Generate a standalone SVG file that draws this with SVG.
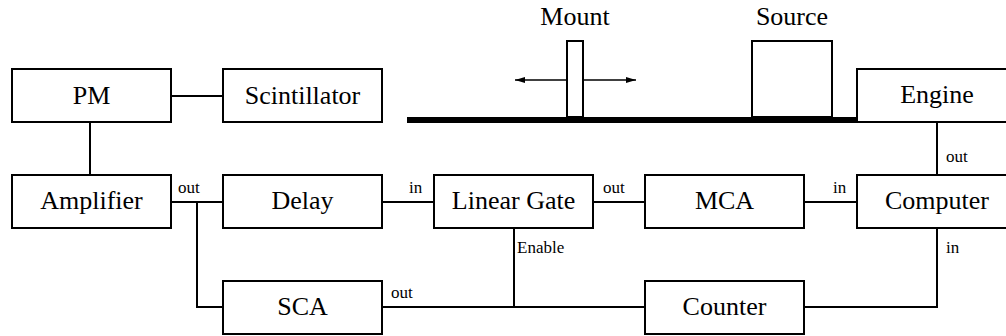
<svg xmlns="http://www.w3.org/2000/svg" width="1006" height="336" viewBox="0 0 1006 336">
  <style>
    .box { fill: #fff; stroke: #000; stroke-width: 2; }
    .lbl { font-family: 'Liberation Serif', 'Times New Roman', serif; font-size: 26px; fill: #000; text-anchor: middle; }
    .port { font-family: 'Liberation Serif', 'Times New Roman', serif; font-size: 17px; fill: #000; }
    .wire { fill: none; stroke: #000; stroke-width: 2; }
    .thin { fill: none; stroke: #000; stroke-width: 1.3; }
  </style>
  <defs>
    <marker id="arrowHead" viewBox="0 0 10 6" refX="10" refY="3" markerWidth="10" markerHeight="6" markerUnits="userSpaceOnUse" orient="auto-start-reverse">
      <path d="M0,0 L10,3 L0,6 Z" fill="#000"/>
    </marker>
  </defs>

  <rect width="1006" height="336" fill="#fff"/>

  <!-- translation stage: rail, sliding mount, source -->
  <g id="stage">
    <line class="thin" x1="515" y1="80" x2="636" y2="80" marker-start="url(#arrowHead)" marker-end="url(#arrowHead)"/>
    <rect x="407" y="117" width="451" height="6" fill="#000"/>
    <rect class="box" x="567" y="41" width="16" height="76" stroke-width="1.6"/>
    <rect class="box" x="752" y="41" width="80" height="76" stroke-width="1.6"/>
    <text class="lbl" x="575" y="25">Mount</text>
    <text class="lbl" x="792" y="25">Source</text>
  </g>

  <!-- connectors -->
  <g id="connectors">
    <path class="wire" d="M171,96 H223"/>
    <path class="wire" d="M90,122 V175"/>
    <path class="wire" d="M171,202 H223"/>
    <path class="wire" d="M197,202 V307 H223"/>
    <path class="wire" d="M382,202 H434"/>
    <path class="wire" d="M593,202 H645"/>
    <path class="wire" d="M804,202 H857"/>
    <path class="wire" d="M382,307 H645"/>
    <path class="wire" d="M514,228 V307"/>
    <path class="wire" d="M804,307 H937 V228"/>
    <path class="wire" d="M937,122 V175"/>
    <text class="port" x="178" y="193">out</text>
    <text class="port" x="409" y="193">in</text>
    <text class="port" x="603" y="193">out</text>
    <text class="port" x="833" y="193">in</text>
    <text class="port" x="946" y="162">out</text>
    <text class="port" x="517" y="253">Enable</text>
    <text class="port" x="946" y="253">in</text>
    <text class="port" x="391" y="298">out</text>
  </g>

  <g id="pm">
    <rect class="box" x="12" y="69" width="159" height="53"/>
    <text class="lbl" x="91.5" y="104">PM</text>
  </g>
  <g id="scintillator">
    <rect class="box" x="223" y="69" width="159" height="53"/>
    <text class="lbl" x="302.5" y="104">Scintillator</text>
  </g>
  <g id="engine">
    <rect class="box" x="857" y="69" width="160" height="53"/>
    <text class="lbl" x="937" y="103">Engine</text>
  </g>
  <g id="amplifier">
    <rect class="box" x="12" y="175" width="159" height="53"/>
    <text class="lbl" x="91.5" y="209">Amplifier</text>
  </g>
  <g id="delay">
    <rect class="box" x="223" y="175" width="159" height="53"/>
    <text class="lbl" x="302.5" y="209">Delay</text>
  </g>
  <g id="linear-gate">
    <rect class="box" x="434" y="175" width="159" height="53"/>
    <text class="lbl" x="513.5" y="209">Linear Gate</text>
  </g>
  <g id="mca">
    <rect class="box" x="645" y="175" width="159" height="53"/>
    <text class="lbl" x="724.5" y="209">MCA</text>
  </g>
  <g id="computer">
    <rect class="box" x="857" y="175" width="160" height="53"/>
    <text class="lbl" x="937" y="209">Computer</text>
  </g>
  <g id="sca">
    <rect class="box" x="223" y="281" width="159" height="53"/>
    <text class="lbl" x="302.5" y="315">SCA</text>
  </g>
  <g id="counter">
    <rect class="box" x="645" y="281" width="159" height="53"/>
    <text class="lbl" x="724.5" y="315">Counter</text>
  </g>
</svg>
